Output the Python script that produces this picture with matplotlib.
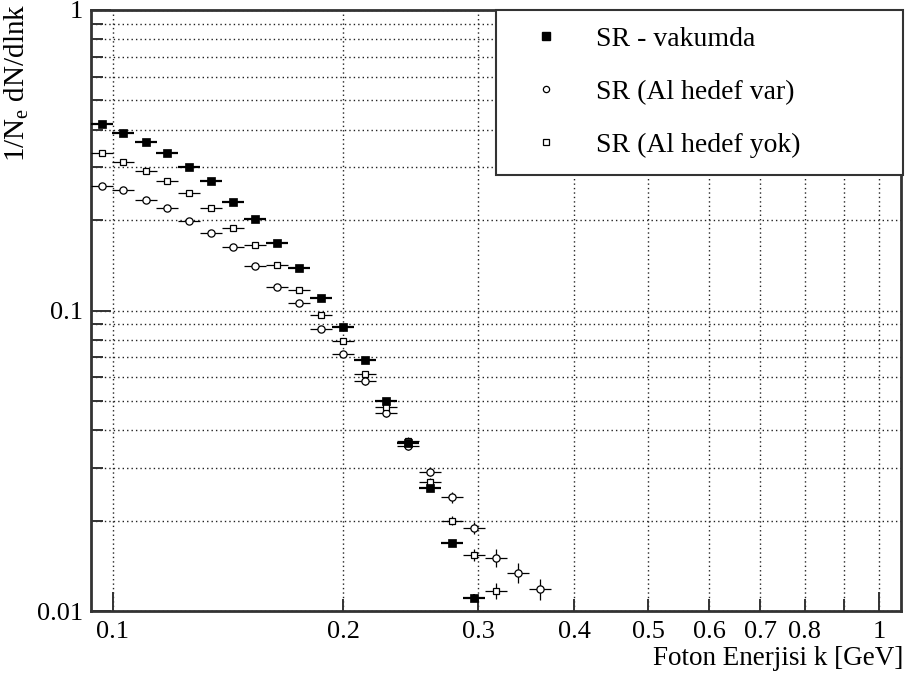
import numpy as np
import matplotlib
matplotlib.use("Agg")
import matplotlib.pyplot as plt
from matplotlib.lines import Line2D
from matplotlib.ticker import FixedLocator, FixedFormatter, NullFormatter

plt.rcParams['font.family'] = ['Liberation Serif', 'DejaVu Serif']
plt.rcParams['mathtext.fontset'] = 'custom'
plt.rcParams['mathtext.rm'] = 'Liberation Serif'
plt.rcParams['mathtext.it'] = 'Liberation Serif:italic'

# photon energy bin centres [GeV]
k_bins = [0.09675, 0.1032, 0.1104, 0.1178, 0.1259, 0.1345, 0.1436, 0.1533,
          0.1638, 0.1749, 0.1868, 0.1996, 0.2132, 0.2274, 0.2431, 0.2597,
          0.2773, 0.2962, 0.3164, 0.3380, 0.3611]
half_bin_dex = 0.0143   # half bin width in log10(k)

# SR - vakumda
vak_y = [0.4166, 0.3906, 0.3628, 0.3335, 0.3010, 0.2698, 0.2302, 0.2020,
         0.1681, 0.1381, 0.1100, 0.0879, 0.0684, 0.0501, 0.0363, 0.0257,
         0.0168, 0.01107]
vak_rel_err = [0.01, 0.01, 0.01, 0.01, 0.01, 0.01, 0.01, 0.012, 0.012,
               0.014, 0.015, 0.016, 0.018, 0.02, 0.022, 0.025, 0.028, 0.03]

# SR (Al hedef var)
var_y = [0.2590, 0.2512, 0.2337, 0.2198, 0.1989, 0.1806, 0.1627, 0.1409,
         0.1200, 0.1057, 0.0868, 0.0718, 0.0581, 0.0457, 0.0355, 0.0291,
         0.0239, 0.0189, 0.01504, 0.01341, 0.01187]
var_rel_err = [0.012, 0.012, 0.012, 0.013, 0.013, 0.014, 0.015, 0.016,
               0.018, 0.02, 0.022, 0.024, 0.026, 0.03, 0.032, 0.035, 0.04,
               0.045, 0.07, 0.075, 0.08]

# SR (Al hedef yok)
yok_y = [0.3335, 0.3127, 0.2912, 0.2692, 0.2455, 0.2198, 0.1886, 0.1652,
         0.1420, 0.1170, 0.0968, 0.0790, 0.0615, 0.0479, 0.0368, 0.0269,
         0.0200, 0.0154, 0.01165]
yok_rel_err = [0.01, 0.011, 0.011, 0.012, 0.012, 0.013, 0.014, 0.015,
               0.016, 0.018, 0.02, 0.022, 0.024, 0.026, 0.03, 0.032, 0.035,
               0.045, 0.06]

labels = ['SR - vakumda', 'SR (Al hedef var)', 'SR (Al hedef yok)']

x_major = [0.1, 1.0]
x_minor = [0.2, 0.3, 0.4, 0.5, 0.6, 0.7, 0.8, 0.9]
x_minor_labels = ['0.2', '0.3', '0.4', '0.5', '0.6', '0.7', '0.8', '']


def xerrs(y):
    x = np.array(k_bins[:len(y)])
    f = 10 ** half_bin_dex
    return np.vstack([x - x / f, x * f - x])


fig = plt.figure(figsize=(9.07, 6.77), dpi=100)
ax = fig.add_axes([91 / 907, 66 / 677, 810 / 907, 601 / 677])
ax.set_xscale('log')
ax.set_yscale('log')
ax.set_xlim(0.0937, 1.068)
ax.set_ylim(0.01, 1.0)

series = [
    (var_y, var_rel_err, dict(marker='o', ms=5.2, mfc='white', mec='black', mew=0.9), 0.9),
    (yok_y, yok_rel_err, dict(marker='s', ms=5.0, mfc='white', mec='black', mew=0.9), 0.9),
    (vak_y, vak_rel_err, dict(marker='s', ms=6.4, mfc='black', mec='black', mew=0.5), 1.6),
]
for z, (y, rel, style, lw) in enumerate(series):
    y = np.array(y)
    x = np.array(k_bins[:len(y)])
    ax.errorbar(x, y, xerr=xerrs(y), yerr=y * np.array(rel), fmt='none',
                ecolor='black', elinewidth=lw, capsize=0, zorder=3 + 2 * z)
    ax.plot(x, y, linestyle='none', zorder=4 + 2 * z, **style)

# grid on every decade subdivision, ROOT style
grid_kw = dict(color='#222222', linestyle=(0, (1, 2.2)), linewidth=1.0)
ax.xaxis.set_major_locator(FixedLocator(x_major))
ax.xaxis.set_minor_locator(FixedLocator(x_minor))
ax.xaxis.set_major_formatter(FixedFormatter(['0.1', '1']))
ax.xaxis.set_minor_formatter(FixedFormatter(x_minor_labels))
ax.yaxis.set_major_locator(FixedLocator([0.01, 0.1, 1.0]))
ax.yaxis.set_major_formatter(FixedFormatter(['0.01', '0.1', '1']))
ax.yaxis.set_minor_locator(FixedLocator(
    [m * d for d in (0.01, 0.1) for m in range(2, 10)]))
ax.yaxis.set_minor_formatter(NullFormatter())
ax.grid(True, which='both', **grid_kw)
ax.set_axisbelow(True)

ax.tick_params(axis='both', which='both', direction='in', colors='#333333',
               labelcolor='black', labelsize=19, top=False, right=False)
ax.tick_params(axis='y', which='major', length=14.5, width=1.4, pad=6)
ax.tick_params(axis='y', which='minor', length=8.5, width=1.4)
ax.tick_params(axis='x', which='major', length=14, width=1.4, pad=7)
ax.tick_params(axis='x', which='minor', length=9, width=1.4, pad=7,
               labelsize=19)
for sp in ax.spines.values():
    sp.set_color('#333333')
    sp.set_linewidth(2.0)

handles = [
    Line2D([], [], linestyle='none', marker='s', ms=5.2, mfc='black', mec='black'),
    Line2D([], [], linestyle='none', marker='o', ms=4.5, mfc='white', mec='black', mew=0.9),
    Line2D([], [], linestyle='none', marker='s', ms=4.5, mfc='white', mec='black', mew=0.9),
]
leg = ax.legend(handles, labels, loc='upper right',
                bbox_to_anchor=(0.5, 0.5, 0.5025, 0.5), mode='expand',
                borderaxespad=0, fontsize=20, borderpad=0.6,
                handlelength=2.4, handletextpad=0.6, labelspacing=0.99,
                fancybox=False, framealpha=1, edgecolor='#333333')
leg.get_frame().set_linewidth(1.5)
leg.set_zorder(20)

fig.text(903 / 907, 12 / 677, 'Foton Enerjisi k [GeV]', ha='right',
         va='baseline', fontsize=19.5)
fig.text(17 / 907, 1 - 4 / 677, '1/N$_\\mathrm{e}$ dN/dlnk', rotation=90,
         ha='center', va='top', fontsize=21)

fig.savefig('out.png', dpi=100, facecolor='white')
